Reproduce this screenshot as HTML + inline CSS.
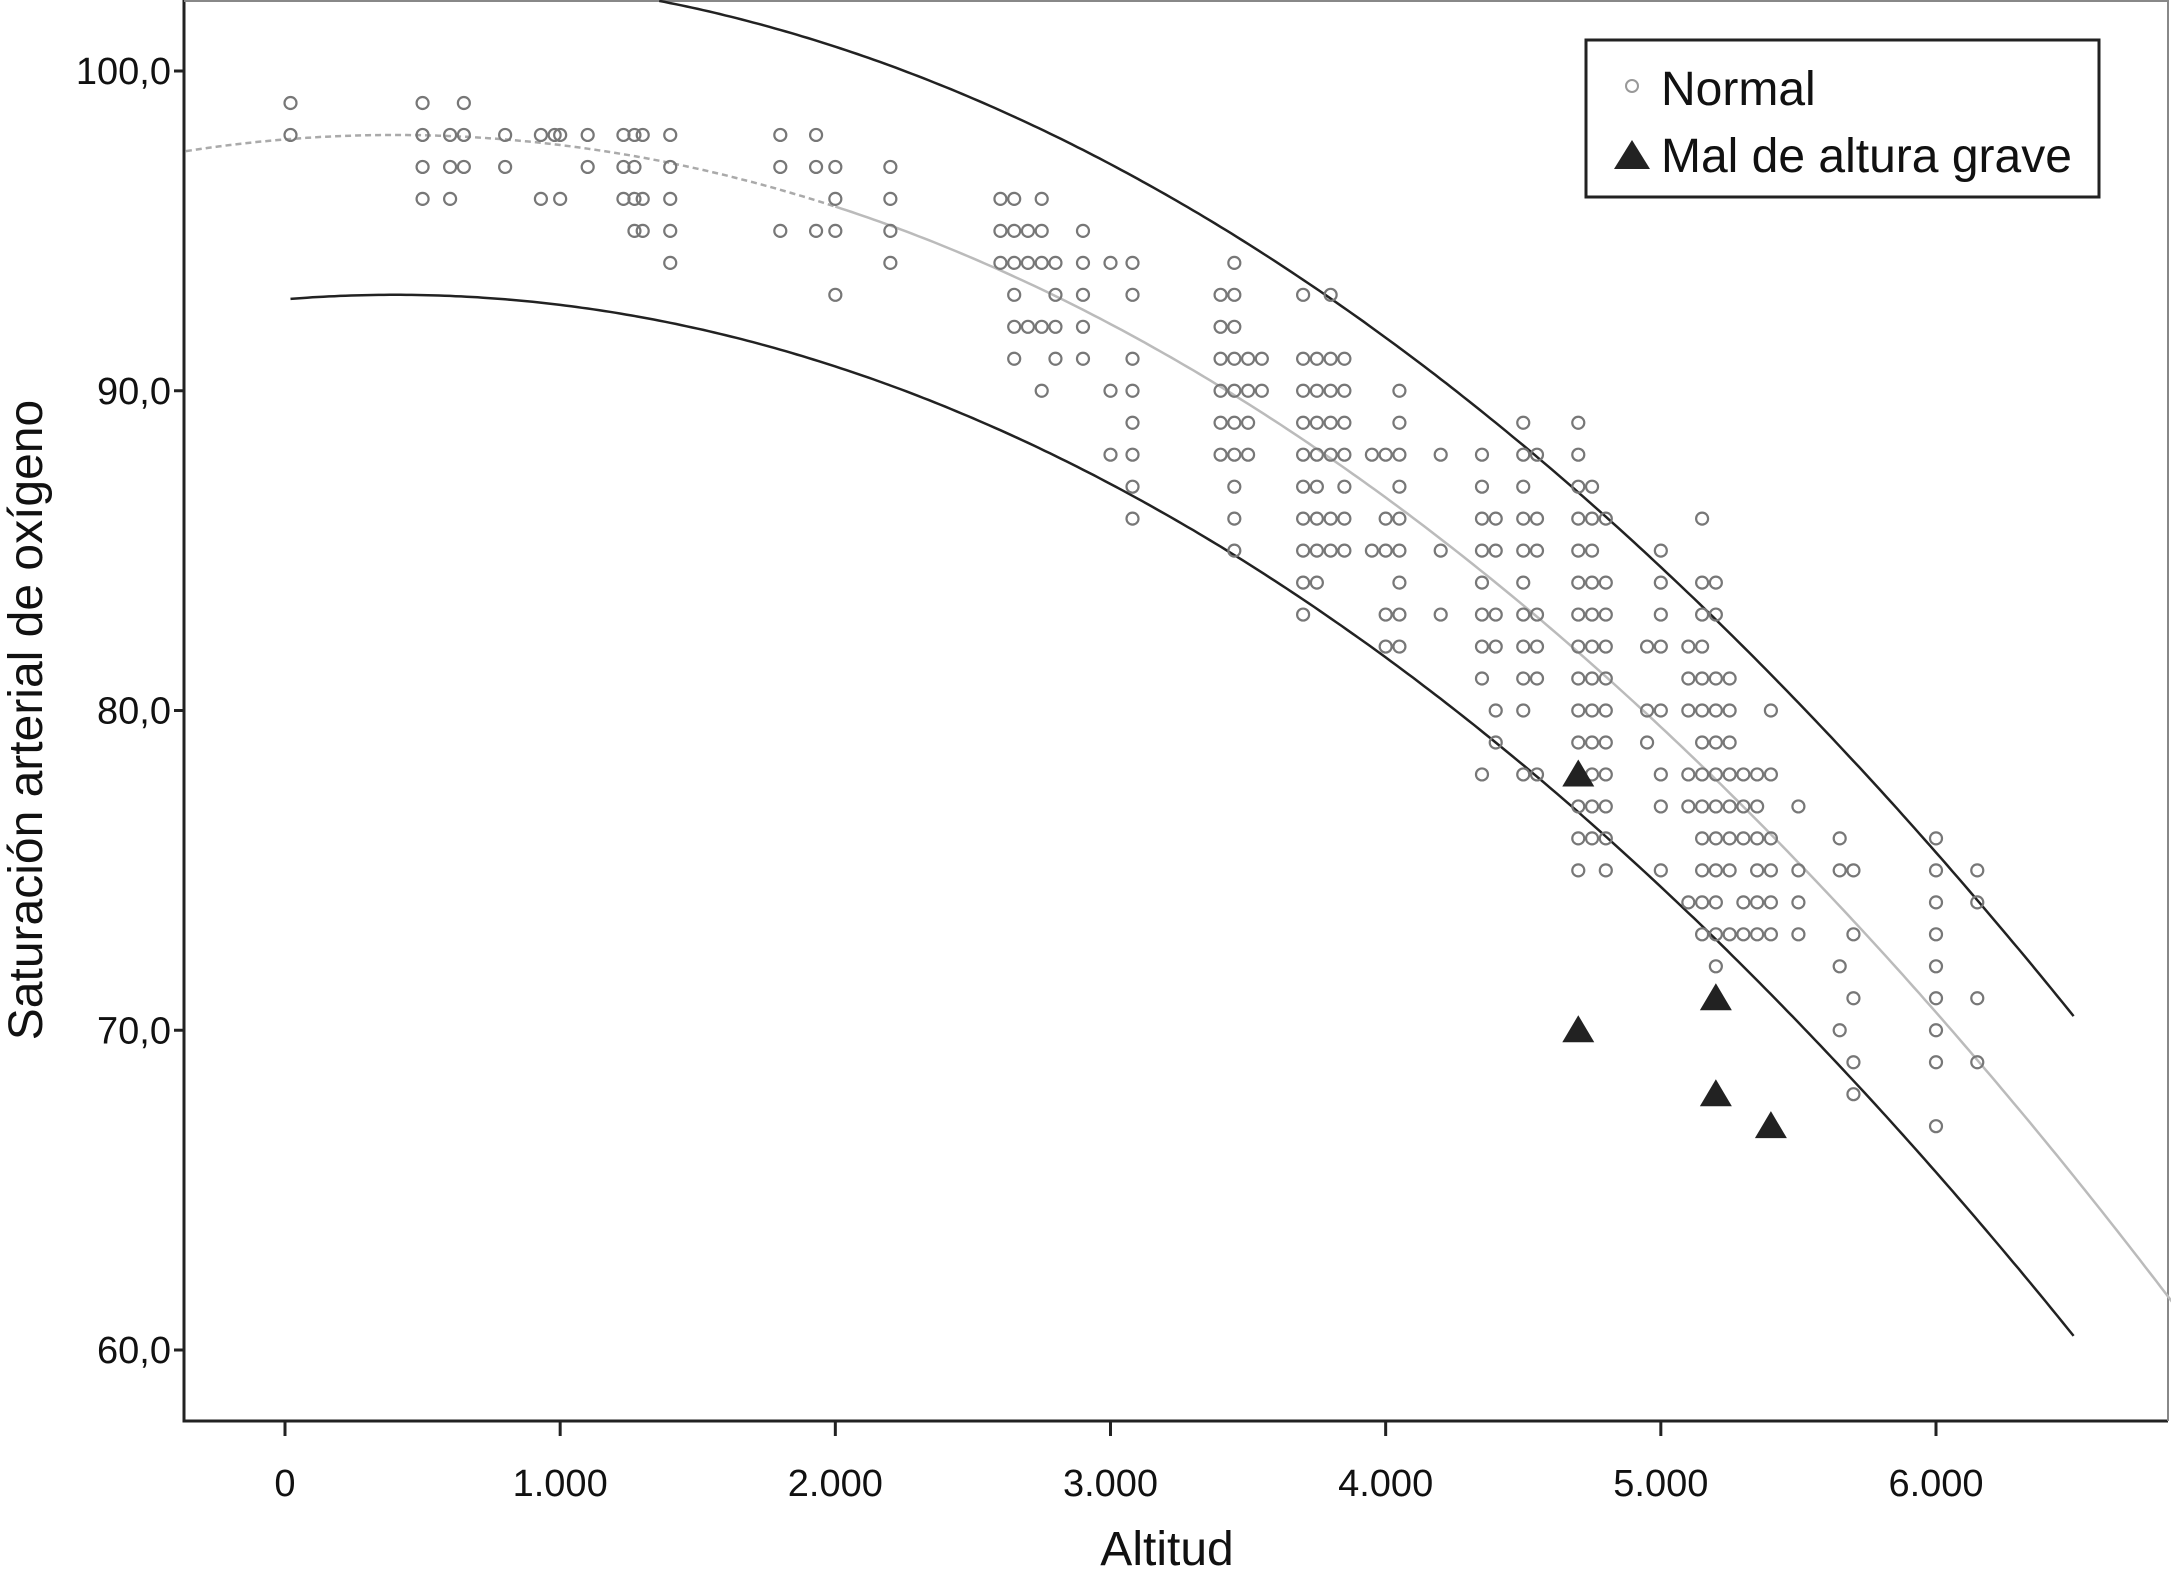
<!DOCTYPE html>
<html><head><meta charset="utf-8"><style>
html,body{margin:0;padding:0;background:#fff;}
svg{display:block;font-family:"Liberation Sans",Arial,sans-serif;}
</style></head><body>
<svg id="chart" width="2171" height="1577" viewBox="0 0 2171 1577">
<g id="axes"></g>
<g id="curves"></g>
<g id="pts"></g>
<g id="tris"></g>
<g>
<rect x="1586" y="40" width="513" height="157" fill="#fff" stroke="#222" stroke-width="3"/>
<circle cx="1632" cy="86" r="6" fill="none" stroke="#999" stroke-width="2"/>
<text x="1661" y="105" font-size="48" fill="#111">Normal</text>
<polygon points="1614,169 1650,169 1632,140" fill="#222"/>
<text x="1661" y="172" font-size="48" fill="#111">Mal de altura grave</text>
</g>
<text x="1167" y="1565" font-size="48" text-anchor="middle" fill="#111">Altitud</text>
<text transform="translate(42,720) rotate(-90)" font-size="48" text-anchor="middle" fill="#111">Saturación arterial de oxígeno</text>
</svg>
<script>
const xTicks=[0,1000,2000,3000,4000,5000,6000];
const xTickLabels=["0","1.000","2.000","3.000","4.000","5.000","6.000"];
const yTicks=[60,70,80,90,100];
const yTickLabels=["60,0","70,0","80,0","90,0","100,0"];
const normalAlt=[20,500,600,650,800,930,980,1000,1100,1230,1270,1300,1400,1800,1930,2000,2200,2600,2650,2700,2750,2800,2900,3000,3080,3400,3450,3500,3550,3700,3750,3800,3850,3950,4000,4050,4200,4350,4400,4500,4550,4700,4750,4800,4950,5000,5100,5150,5200,5250,5300,5350,5400,5500,5650,5700,6000,6150];
const normalSat=[[99,98],[99,98,97,96],[98,97,96],[99,98,97],[98,97],[98,96],[98],[98,96],[98,97],[98,97,96],[98,97,96,95],[98,96,95],[98,97,96,95,94],[98,97,95],[98,97,95],[97,96,95,93],[97,96,95,94],[96,95,94],[96,95,94,93,92,91],[95,94,92],[96,95,94,92,90],[94,93,92,91],[95,94,93,92,91],[94,90,88],[94,93,91,90,89,88,87,86],[93,92,91,90,89,88],[94,93,92,91,90,89,88,87,86,85],[91,90,89,88],[91,90],[93,91,90,89,88,87,86,85,84,83],[91,90,89,88,87,86,85,84],[93,91,90,89,88,86,85],[91,90,89,88,87,86,85],[88,85],[88,86,85,83,82],[90,89,88,87,86,85,84,83,82],[88,85,83],[88,87,86,85,84,83,82,81,78],[86,85,83,82,80,79],[89,88,87,86,85,84,83,82,81,80,78],[88,86,85,83,82,81,78],[89,88,87,86,85,84,83,82,81,80,79,77,76,75],[87,86,85,84,83,82,81,80,79,78,77,76],[86,84,83,82,81,80,79,78,77,76,75],[82,80,79],[85,84,83,82,80,78,77,75],[82,81,80,78,77,74],[86,84,83,82,81,80,79,78,77,76,75,74,73],[84,83,81,80,79,78,77,76,75,74,73,72],[81,80,79,78,77,76,75,73],[78,77,76,74,73],[78,77,76,75,74,73],[80,78,76,75,74,73],[77,75,74,73],[76,75,72,70],[75,73,71,69,68],[76,75,74,73,72,71,70,69,67],[75,74,71,69]];
const severeAlt=[4700,4700,5200,5200,5400];
const severeSat=[78,70,71,68,67];
const fitPeakAlt=400, fitPeakSat=98, fitCurv=0.875, bandHalf=5;

const NS="http://www.w3.org/2000/svg";
const X0=184,X1=2168,Y0=0,Y1=1421;
const sx=v=>285+(v/6000)*(1936-285);
const sy=v=>1350-(v-60)/40*(1350-71);
function mk(tag,attrs,parent){const e=document.createElementNS(NS,tag);for(const k in attrs)e.setAttribute(k,attrs[k]);parent.appendChild(e);return e;}
const axes=document.getElementById('axes');
let e=mk('path',{d:`M${X0},${Y0} L${X0},${Y1} L${X1},${Y1}`,fill:'none',stroke:'#222','stroke-width':3},axes);


e=mk('path',{d:`M${X0},1 L${X1},1 L${X1},${Y1}`,fill:'none',stroke:'#888','stroke-width':2},axes);


xTicks.forEach((t,i)=>{
 let l=mk('line',{x1:sx(t),x2:sx(t),y1:Y1,y2:Y1+15,stroke:'#222','stroke-width':3},axes);
 
 
 let tx=mk('text',{x:sx(t),y:1496,'font-size':38,'text-anchor':'middle',fill:'#111'},axes);
 tx.textContent=xTickLabels[i];
 
 
});
yTicks.forEach((t,i)=>{
 let l=mk('line',{x1:X0-10,x2:X0,y1:sy(t),y2:sy(t),stroke:'#222','stroke-width':3},axes);
 
 
 let tx=mk('text',{x:X0-13,y:sy(t)+13,'font-size':38,'text-anchor':'end',fill:'#111'},axes);
 tx.textContent=yTickLabels[i];
 
 
});
const curves=document.getElementById('curves');
const fit=a=>fitPeakSat-fitCurv*Math.pow(a/1000-fitPeakAlt/1000,2);
function curve(f,a0,a1){let d='';for(let a=a0;a<=a1;a+=20){let y=sy(f(a));if(y<0)continue;d+=(d?'L':'M')+sx(a).toFixed(1)+','+y.toFixed(1);}return d;}
e=mk('path',{d:curve(fit,-360,2000),fill:'none',stroke:'#aaa','stroke-width':2.5,'stroke-dasharray':'6,4'},curves);


e=mk('path',{d:curve(fit,2000,6860),fill:'none',stroke:'#bbb','stroke-width':2.5},curves);


e=mk('path',{d:curve(a=>fit(a)+bandHalf,0,6500),fill:'none',stroke:'#222','stroke-width':2.5},curves);


e=mk('path',{d:curve(a=>fit(a)-bandHalf,20,6500),fill:'none',stroke:'#222','stroke-width':2.5},curves);


const pts=document.getElementById('pts');
normalAlt.forEach((a,i)=>normalSat[i].forEach(s=>{
 let c=mk('circle',{cx:sx(a),cy:sy(s),r:6,fill:'none',stroke:'#777','stroke-width':2.2},pts);
 
 
}));
const tris=document.getElementById('tris');
severeAlt.forEach((a,i)=>{
 const x=sx(a),y=sy(severeSat[i]);
 let p=mk('polygon',{points:`${x-16},${y+12} ${x+16},${y+12} ${x},${y-15}`,fill:'#222'},tris);
 
 
});
</script>
</body></html>
